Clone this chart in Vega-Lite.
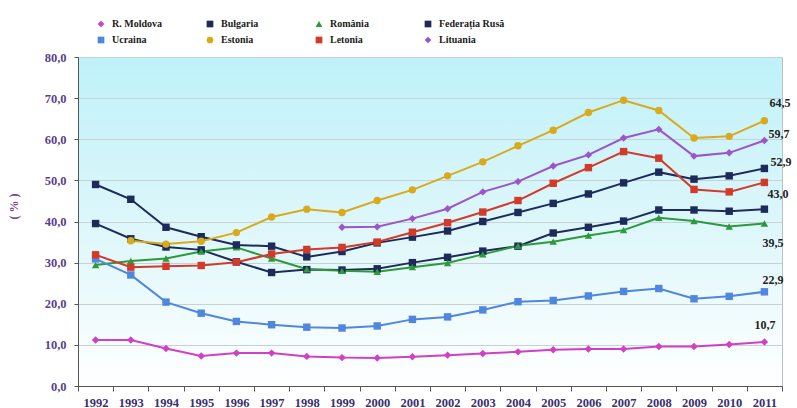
{
 "$schema": "https://vega.github.io/schema/vega-lite/v6.json",
 "width": 704,
 "height": 329,
 "autosize": {"type": "none"},
 "padding": {"left": 78, "top": 57, "right": 15, "bottom": 22},
 "background": "white",
 "config": {
  "locale": {"number": {"decimal": ",", "thousands": ".", "grouping": [3], "currency": ["", " €"]}},
  "font": "Liberation Serif",
  "view": {"stroke": "#b5c3c6", "strokeWidth": 1, "fill": {"gradient": "linear", "x1": 0, "y1": 0, "x2": 0, "y2": 1, "stops": [{"offset": 0, "color": "#bff1f9"}, {"offset": 0.6, "color": "#e3f8fb"}, {"offset": 1, "color": "#ffffff"}]}},
  "legend": {"padding": 0, "labelFont": "Liberation Serif", "labelFontWeight": "bold", "labelFontSize": 10, "labelColor": "#1a1a1a", "symbolSize": 45, "labelOffset": 6, "symbolStrokeWidth": 0}
 },
 "data": {"values": [
  {"year":"1992","country":"R. Moldova","value":11.2},{"year":"1993","country":"R. Moldova","value":11.2},{"year":"1994","country":"R. Moldova","value":9.1},{"year":"1995","country":"R. Moldova","value":7.3},{"year":"1996","country":"R. Moldova","value":8.0},{"year":"1997","country":"R. Moldova","value":8.0},{"year":"1998","country":"R. Moldova","value":7.2},{"year":"1999","country":"R. Moldova","value":6.9},{"year":"2000","country":"R. Moldova","value":6.8},{"year":"2001","country":"R. Moldova","value":7.1},{"year":"2002","country":"R. Moldova","value":7.5},{"year":"2003","country":"R. Moldova","value":7.9},{"year":"2004","country":"R. Moldova","value":8.3},{"year":"2005","country":"R. Moldova","value":8.8},{"year":"2006","country":"R. Moldova","value":9.0},{"year":"2007","country":"R. Moldova","value":9.0},{"year":"2008","country":"R. Moldova","value":9.6},{"year":"2009","country":"R. Moldova","value":9.6},{"year":"2010","country":"R. Moldova","value":10.1},{"year":"2011","country":"R. Moldova","value":10.7},
  {"year":"1992","country":"Bulgaria","value":39.5},{"year":"1993","country":"Bulgaria","value":35.8},{"year":"1994","country":"Bulgaria","value":33.8},{"year":"1995","country":"Bulgaria","value":33.1},{"year":"1996","country":"Bulgaria","value":30.2},{"year":"1997","country":"Bulgaria","value":27.6},{"year":"1998","country":"Bulgaria","value":28.3},{"year":"1999","country":"Bulgaria","value":28.2},{"year":"2000","country":"Bulgaria","value":28.5},{"year":"2001","country":"Bulgaria","value":30.0},{"year":"2002","country":"Bulgaria","value":31.3},{"year":"2003","country":"Bulgaria","value":32.8},{"year":"2004","country":"Bulgaria","value":34.0},{"year":"2005","country":"Bulgaria","value":37.2},{"year":"2006","country":"Bulgaria","value":38.6},{"year":"2007","country":"Bulgaria","value":40.1},{"year":"2008","country":"Bulgaria","value":42.8},{"year":"2009","country":"Bulgaria","value":42.8},{"year":"2010","country":"Bulgaria","value":42.5},{"year":"2011","country":"Bulgaria","value":43.0},
  {"year":"1992","country":"România","value":29.4},{"year":"1993","country":"România","value":30.4},{"year":"1994","country":"România","value":31.0},{"year":"1995","country":"România","value":32.7},{"year":"1996","country":"România","value":33.7},{"year":"1997","country":"România","value":31.0},{"year":"1998","country":"România","value":28.4},{"year":"1999","country":"România","value":28.0},{"year":"2000","country":"România","value":27.8},{"year":"2001","country":"România","value":28.9},{"year":"2002","country":"România","value":29.9},{"year":"2003","country":"România","value":32.0},{"year":"2004","country":"România","value":34.1},{"year":"2005","country":"România","value":35.1},{"year":"2006","country":"România","value":36.6},{"year":"2007","country":"România","value":37.9},{"year":"2008","country":"România","value":40.9},{"year":"2009","country":"România","value":40.1},{"year":"2010","country":"România","value":38.8},{"year":"2011","country":"România","value":39.5},
  {"year":"1992","country":"Federația Rusă","value":49.0},{"year":"1993","country":"Federația Rusă","value":45.4},{"year":"1994","country":"Federația Rusă","value":38.6},{"year":"1995","country":"Federația Rusă","value":36.3},{"year":"1996","country":"Federația Rusă","value":34.3},{"year":"1997","country":"Federația Rusă","value":34.0},{"year":"1998","country":"Federația Rusă","value":31.4},{"year":"1999","country":"Federația Rusă","value":32.7},{"year":"2000","country":"Federația Rusă","value":34.8},{"year":"2001","country":"Federația Rusă","value":36.2},{"year":"2002","country":"Federația Rusă","value":37.7},{"year":"2003","country":"Federația Rusă","value":40.0},{"year":"2004","country":"Federația Rusă","value":42.2},{"year":"2005","country":"Federația Rusă","value":44.4},{"year":"2006","country":"Federația Rusă","value":46.7},{"year":"2007","country":"Federația Rusă","value":49.4},{"year":"2008","country":"Federația Rusă","value":52.0},{"year":"2009","country":"Federația Rusă","value":50.3},{"year":"2010","country":"Federația Rusă","value":51.1},{"year":"2011","country":"Federația Rusă","value":52.9},
  {"year":"1992","country":"Ucraina","value":30.9},{"year":"1993","country":"Ucraina","value":27.0},{"year":"1994","country":"Ucraina","value":20.4},{"year":"1995","country":"Ucraina","value":17.7},{"year":"1996","country":"Ucraina","value":15.7},{"year":"1997","country":"Ucraina","value":14.9},{"year":"1998","country":"Ucraina","value":14.3},{"year":"1999","country":"Ucraina","value":14.1},{"year":"2000","country":"Ucraina","value":14.6},{"year":"2001","country":"Ucraina","value":16.2},{"year":"2002","country":"Ucraina","value":16.8},{"year":"2003","country":"Ucraina","value":18.5},{"year":"2004","country":"Ucraina","value":20.5},{"year":"2005","country":"Ucraina","value":20.8},{"year":"2006","country":"Ucraina","value":21.9},{"year":"2007","country":"Ucraina","value":23.0},{"year":"2008","country":"Ucraina","value":23.7},{"year":"2009","country":"Ucraina","value":21.2},{"year":"2010","country":"Ucraina","value":21.8},{"year":"2011","country":"Ucraina","value":22.9},
  {"year":"1993","country":"Estonia","value":35.3},{"year":"1994","country":"Estonia","value":34.5},{"year":"1995","country":"Estonia","value":35.2},{"year":"1996","country":"Estonia","value":37.3},{"year":"1997","country":"Estonia","value":41.1},{"year":"1998","country":"Estonia","value":43.0},{"year":"1999","country":"Estonia","value":42.2},{"year":"2000","country":"Estonia","value":45.1},{"year":"2001","country":"Estonia","value":47.7},{"year":"2002","country":"Estonia","value":51.1},{"year":"2003","country":"Estonia","value":54.5},{"year":"2004","country":"Estonia","value":58.4},{"year":"2005","country":"Estonia","value":62.2},{"year":"2006","country":"Estonia","value":66.5},{"year":"2007","country":"Estonia","value":69.5},{"year":"2008","country":"Estonia","value":67.0},{"year":"2009","country":"Estonia","value":60.3},{"year":"2010","country":"Estonia","value":60.7},{"year":"2011","country":"Estonia","value":64.5},
  {"year":"1992","country":"Letonia","value":31.9},{"year":"1993","country":"Letonia","value":28.9},{"year":"1994","country":"Letonia","value":29.1},{"year":"1995","country":"Letonia","value":29.3},{"year":"1996","country":"Letonia","value":30.1},{"year":"1997","country":"Letonia","value":32.1},{"year":"1998","country":"Letonia","value":33.2},{"year":"1999","country":"Letonia","value":33.7},{"year":"2000","country":"Letonia","value":35.0},{"year":"2001","country":"Letonia","value":37.4},{"year":"2002","country":"Letonia","value":39.7},{"year":"2003","country":"Letonia","value":42.3},{"year":"2004","country":"Letonia","value":45.1},{"year":"2005","country":"Letonia","value":49.3},{"year":"2006","country":"Letonia","value":53.1},{"year":"2007","country":"Letonia","value":57.0},{"year":"2008","country":"Letonia","value":55.4},{"year":"2009","country":"Letonia","value":47.8},{"year":"2010","country":"Letonia","value":47.2},{"year":"2011","country":"Letonia","value":49.5},
  {"year":"1999","country":"Lituania","value":38.6},{"year":"2000","country":"Lituania","value":38.7},{"year":"2001","country":"Lituania","value":40.7},{"year":"2002","country":"Lituania","value":43.1},{"year":"2003","country":"Lituania","value":47.2},{"year":"2004","country":"Lituania","value":49.7},{"year":"2005","country":"Lituania","value":53.5},{"year":"2006","country":"Lituania","value":56.2},{"year":"2007","country":"Lituania","value":60.3},{"year":"2008","country":"Lituania","value":62.4},{"year":"2009","country":"Lituania","value":55.9},{"year":"2010","country":"Lituania","value":56.7},{"year":"2011","country":"Lituania","value":59.7}
 ]},
 "encoding": {
  "x": {"field": "year", "type": "ordinal", "scale": {"type": "band", "paddingInner": 0, "paddingOuter": 0},
   "axis": {"title": null, "labelAngle": 0, "tickBand": "extent", "grid": false, "domainColor": "#555555", "tickColor": "#555555", "tickSize": 5, "labelFont": "Liberation Serif", "labelFontWeight": "bold", "labelFontSize": 12.5, "labelColor": "#3d2f6e", "labelPadding": 5}},
  "y": {"field": "value", "type": "quantitative", "scale": {"domain": [0, 80]},
   "axis": {"values": [0, 10, 20, 30, 40, 50, 60, 70, 80], "format": ".1f", "title": "( % )", "titleX": -58, "titleY": 149, "titleAngle": -90, "titleFont": "Liberation Serif", "titleFontWeight": "bold", "titleFontSize": 12, "titleColor": "#7d3d95", "labelFont": "Liberation Serif", "labelFontWeight": "bold", "labelFontSize": 12.5, "labelColor": "#5b3f8c", "tickSize": 4, "labelPadding": 8, "domainColor": "#555555", "tickColor": "#555555", "gridColor": "#c5d3d6", "gridWidth": 1}}
 },
 "layer": [
  {"mark": {"type": "line", "strokeWidth": 2},
   "encoding": {"color": {"field": "country", "type": "nominal",
     "legend": {"title": null, "orient": "none", "direction": "horizontal", "legendX": 18, "legendY": -38, "columns": 4, "gridAlign": "all", "columnPadding": 27, "rowPadding": 6},
     "scale": {"domain": ["R. Moldova", "Bulgaria", "România", "Federația Rusă", "Ucraina", "Estonia", "Letonia", "Lituania"],
      "range": ["#d23fc7", "#1c2b5a", "#2b9a3a", "#1c2b5a", "#4f86e0", "#d9ab1c", "#d23a2a", "#9b55c8"]}}}},
  {"mark": {"type": "point", "filled": true, "size": 55, "opacity": 1},
   "encoding": {
    "color": {"field": "country", "type": "nominal",
     "legend": {"title": null, "orient": "none", "direction": "horizontal", "legendX": 18, "legendY": -38, "columns": 4, "gridAlign": "all", "columnPadding": 27, "rowPadding": 6}},
    "shape": {"field": "country", "type": "nominal",
     "legend": {"title": null, "orient": "none", "direction": "horizontal", "legendX": 18, "legendY": -38, "columns": 4, "gridAlign": "all", "columnPadding": 27, "rowPadding": 6},
     "scale": {"domain": ["R. Moldova", "Bulgaria", "România", "Federația Rusă", "Ucraina", "Estonia", "Letonia", "Lituania"],
      "range": ["diamond", "square", "triangle-up", "square", "square", "circle", "square", "diamond"]}}}},
  {"transform": [{"filter": "datum.year === '2011'"}],
   "encoding": {"text": {"field": "value", "type": "quantitative", "format": ".1f"}},
   "layer": [
    {"transform": [{"filter": "datum.country === 'Estonia'"}], "mark": {"type": "text", "align": "left", "dx": 5, "dy": -18, "fontWeight": "bold", "fontSize": 12, "color": "#222222"}},
    {"transform": [{"filter": "datum.country === 'Lituania'"}], "mark": {"type": "text", "align": "left", "dx": 4, "dy": -6, "fontWeight": "bold", "fontSize": 12, "color": "#222222"}},
    {"transform": [{"filter": "datum.country === 'Federația Rusă'"}], "mark": {"type": "text", "align": "left", "dx": 6, "dy": -6, "fontWeight": "bold", "fontSize": 12, "color": "#222222"}},
    {"transform": [{"filter": "datum.country === 'Bulgaria'"}], "mark": {"type": "text", "align": "left", "dx": 3, "dy": -15, "fontWeight": "bold", "fontSize": 12, "color": "#222222"}},
    {"transform": [{"filter": "datum.country === 'România'"}], "mark": {"type": "text", "align": "left", "dx": -2, "dy": 19, "fontWeight": "bold", "fontSize": 12, "color": "#222222"}},
    {"transform": [{"filter": "datum.country === 'Ucraina'"}], "mark": {"type": "text", "align": "left", "dx": -2, "dy": -12, "fontWeight": "bold", "fontSize": 12, "color": "#222222"}},
    {"transform": [{"filter": "datum.country === 'R. Moldova'"}], "mark": {"type": "text", "align": "left", "dx": -10, "dy": -17, "fontWeight": "bold", "fontSize": 12, "color": "#222222"}}
   ]}
 ]
}
